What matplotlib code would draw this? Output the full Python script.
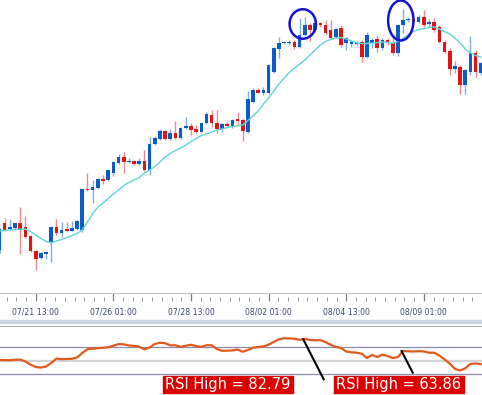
import matplotlib
matplotlib.use("Agg")
import matplotlib.pyplot as plt
from matplotlib.patches import Ellipse, Rectangle
import numpy as np

# ---------------- data (4H candles, price in chart units) ----------------
open_ = [50, 77, 70.7, 71.7, 77, 73.3, 64.3, 49, 41.7, 46,
         56.7, 73.3, 67.3, 70.7, 69.3, 70.7, 70, 111, 110, 112.5,
         120.7, 120, 126.7, 137.3, 143.3, 138, 139, 136, 139.3, 130,
         156, 160.7, 169.3, 160.7, 167.3, 161.7, 172.3, 174, 170.7, 168.3,
         177.3, 185, 177.3, 170.7, 175.7, 173.3, 180.7, 180, 168.3, 198.3,
         210, 207.3, 206.7, 228.3, 250.7, 256.7, 257, 258.3, 253.3, 265,
         275, 270, 276.7, 275, 270, 262.7, 271.7, 256.7, 255.7, 256,
         258.3, 243.3, 256.7, 260.7, 251.7, 260, 256.7, 246.7, 275, 280,
         280.7, 278.3, 283.3, 276, 278.3, 273.3, 258.3, 249.3, 230.7, 233.3,
         215, 228.3, 246.7, 227.3]
close = [71, 70, 72.7, 76.7, 70, 63.3, 49, 40.7, 46.7, 48.3,
         73.3, 67.3, 70, 69.3, 71.7, 79, 110.7, 109.7, 113.3, 120.7,
         119.3, 130, 138.3, 143.3, 138.3, 139.3, 136, 139.3, 130, 156,
         161.7, 169.3, 160.7, 167.3, 161.7, 171.7, 174, 170, 168.3, 176.7,
         185.7, 176.7, 170.7, 176, 174, 180, 179, 169.3, 200.7, 210,
         207.3, 210, 235, 251.7, 257.3, 257.7, 258, 253.3, 265, 275,
         270, 276.7, 275, 266.7, 261.7, 270.7, 255, 261.7, 257.7, 258.3,
         243.3, 265, 260, 251.7, 260, 256.7, 246.7, 275, 280, 281,
         278.3, 283.3, 275, 277.7, 270, 258.3, 248.3, 230.7, 234, 215,
         230, 247.3, 228.3, 236.7]
high = [72, 82.3, 81, 77, 93, 84.3, 65, 50, 48, 49,
        74.3, 81, 78.3, 78, 79, 79.7, 111.5, 126.7, 120, 121.7,
        125, 130.7, 139.3, 146, 147.7, 141.7, 140, 141.7, 150, 163,
        164, 170.7, 170, 170.7, 179, 172.7, 182.7, 176.7, 175, 177.3,
        188.3, 190, 190, 177.3, 178.3, 181, 188.3, 181.7, 209.3, 211.7,
        211.7, 212.7, 236, 253.3, 263.3, 258.5, 260, 260, 281.7, 283.3,
        277.3, 278.3, 278.3, 280, 280, 271.7, 275, 263.3, 260, 259.3,
        260, 268.3, 261.7, 265, 261.7, 261.7, 265, 276, 290.7, 283.3,
        288.3, 285, 290, 280.7, 281.7, 275, 260, 251.7, 239, 235,
        230.7, 264, 250, 238.3]
low = [47, 69, 70, 70, 46, 61.7, 48, 30, 41, 41,
       38.3, 65, 63.3, 68.3, 69, 70, 68, 109.5, 97.3, 111,
       116, 119.3, 124, 136, 127.3, 136.7, 135, 135, 129.3, 125,
       155, 160, 160, 160, 160.7, 160.7, 170.7, 165, 167.3, 167.3,
       176, 172.7, 166.7, 168.3, 171.7, 171.7, 175, 159.3, 166.7, 196.7,
       206.7, 205, 205.7, 227.3, 241.7, 256, 255, 250.7, 251.7, 264,
       259.3, 268.3, 273.3, 265, 260.7, 261.7, 253.3, 250, 253.3, 255,
       238.3, 241.7, 251.7, 248.3, 250, 255, 245, 244, 266.7, 278.3,
       277.3, 277.3, 273.3, 273.3, 268.3, 256.7, 246.7, 225, 227.3, 206,
       206, 225, 223.3, 225]
ma = [69, 69.5, 70.2, 70.7, 70.8, 71, 68.5, 65, 61.5, 58.5,
      57.3, 59, 60.5, 62.5, 64.5, 66.5, 70, 78, 86, 93,
      97, 101.5, 106, 110, 114.5, 117.5, 120, 122.5, 127, 130,
      133.5, 138, 143, 146.5, 149.5, 152, 155, 158.5, 161.5, 164.5,
      166, 168, 170, 171, 172.5, 173.5, 174, 175, 179.5, 184,
      189, 196, 202, 209, 216, 222, 227.5, 232, 236, 240,
      245, 250, 255, 258.5, 260.5, 262, 262.5, 261, 259, 257.3,
      256.5, 256.5, 257, 257.5, 258, 257.5, 256.7, 258.5, 261.5, 265.5,
      268.5, 270.5, 271.5, 272.5, 273, 271, 268.5, 266, 262, 257,
      251, 247, 244.5, 243]
rsi = [51.2, 51, 50.9, 51.6, 51.8, 49, 44.4, 40.8, 40, 41.5,
       46.7, 53.3, 52.4, 52.7, 53, 55, 61.6, 67.2, 67.9, 68.7,
       69.3, 70, 72.4, 74.7, 74.4, 72.8, 72.2, 71, 67, 69.6,
       74.9, 76.8, 76, 73, 73, 70.6, 72.4, 73.7, 71.9, 70.6,
       73.1, 73.1, 67.5, 64.8, 65, 65.4, 66.7, 63.5, 66, 69.4,
       70.4, 71.3, 73.9, 77.9, 82.1, 83.3, 83.3, 82.7, 81.1, 82.6,
       80.8, 80.4, 80.8, 77.7, 73.7, 70.6, 69, 63.8, 62.6, 62.1,
       60.5, 54.1, 58.6, 55.6, 59.2, 57.1, 54.1, 55.6, 64.5, 64.1,
       63.8, 64.2, 63.9, 62, 62, 57.7, 52.1, 45.9, 38.1, 35.6,
       38.9, 45.3, 46, 45.1]
date_labels = ["07/21 13:00", "07/26 01:00", "07/28 13:00",
               "08/02 01:00", "08/04 13:00", "08/09 01:00"]
label_candles = [7, 22, 37, 52, 67, 82]
rsi_levels = [70, 50, 30]
notes = ["RSI High = 82.79", "RSI High = 63.86"]

# ---------------- layout ----------------
W, H = 482, 395
fig = plt.figure(figsize=(W / 100, H / 100), dpi=100)
fig.patch.set_facecolor("white")


def band(top, bottom):
    return [0, 1 - bottom / H, 1, (bottom - top) / H]


n = len(open_)
idx = np.arange(n)
o = np.array(open_, float); c = np.array(close, float)
hi = np.array(high, float); lo = np.array(low, float)
XL = (0.0966, 93.24)

UP, DN = "#0c5cc6", "#e01414"
UPW, DNW = "#7eaee4", "#ef8a8a"

ax = fig.add_axes(band(0, 292.7))
ax.axis("off")
up = c >= o
ax.vlines(idx[up], lo[up], hi[up], color=UPW, lw=1.0, zorder=1)
ax.vlines(idx[~up], lo[~up], hi[~up], color=DNW, lw=1.0, zorder=1)
bottoms = np.minimum(o, c)
heights = np.maximum(np.abs(c - o), 1.2)
ax.bar(idx, heights, bottom=bottoms, width=0.7,
       color=np.where(up, UP, DN), linewidth=0, zorder=2)
ax.plot(idx, ma, color="#62d4d4", lw=1.0, zorder=3)
# highlight circles
ax.add_patch(Ellipse((58.6, 276.0), 5.1, 29.5, fill=False,
                     edgecolor="#1414d2", lw=1.8, zorder=5))
ax.add_patch(Ellipse((77.55, 279.5), 4.9, 40, fill=False,
                     edgecolor="#1414d2", lw=1.8, zorder=5))
ax.set_xlim(*XL)
ax.set_ylim(7.3, 300)

# date strip
axd = fig.add_axes(band(292.7, 300.7))
axd.set_facecolor("none")
for s in ["left", "right", "bottom"]:
    axd.spines[s].set_visible(False)
axd.spines["top"].set_color("#c0c2c8")
axd.spines["top"].set_linewidth(0.8)
axd.set_yticks([])
axd.set_xticks(label_candles, labels=date_labels)
minor = [m for m in np.arange(-0.5, 94, 15 / 8.0)
         if XL[0] <= m <= XL[1]
         and min(abs(m - t) for t in label_candles) > 0.3]
axd.set_xticks(minor, minor=True)
axd.set_xlim(*XL)
axd.set_ylim(0, 1)
axd.tick_params(axis="x", which="major", direction="in", length=5.8,
                width=0.9, color="#808080", pad=4.6, labelsize=5.6,
                labelcolor="#3c4a68")
axd.tick_params(axis="x", which="minor", direction="in", length=2.6,
                width=0.7, color="#9a9a9a")

fig.patches.append(Rectangle((0, 1 - 322.5 / H), 1, 2.5 / H,
                             transform=fig.transFigure, color="#cbd4e4",
                             zorder=0))

# RSI panel
axr = fig.add_axes(band(326, 395))
for s in ["left", "right", "bottom"]:
    axr.spines[s].set_visible(False)
axr.spines["top"].set_color("#b0b0b0")
axr.spines["top"].set_linewidth(0.8)
axr.set_xticks([]); axr.set_yticks([])
for lv in rsi_levels:
    if lv == 50:
        axr.axhline(lv, color="#d4d4d4", lw=1.6, zorder=1)
    else:
        axr.axhline(lv, color="#8c8cac", lw=0.9, zorder=1)
axr.plot(idx, rsi, color="#e05a1e", lw=1.6, zorder=3)

# annotations
axr.plot([58.7, 62.65], [81.85, 22.6], color="black", lw=1.5, zorder=4)
axr.plot([77.7, 79.85], [64.5, 32.4], color="black", lw=1.5, zorder=4)
boxes = [(31.6, 56.7), (64.6, 89.8)]
for (x0, x1), t in zip(boxes, notes):
    axr.add_patch(Rectangle((x0, 2.3), x1 - x0, 25.2, color="#dc0000",
                            zorder=5, clip_on=False))
    axr.text((x0 + x1) / 2, 14.9, t, color="white", fontsize=10.5,
             family="DejaVu Sans", ha="center", va="center", zorder=6)
axr.set_xlim(*XL)
axr.set_ylim(-0.7, 101.6)

fig.savefig("out.png", dpi=100)
